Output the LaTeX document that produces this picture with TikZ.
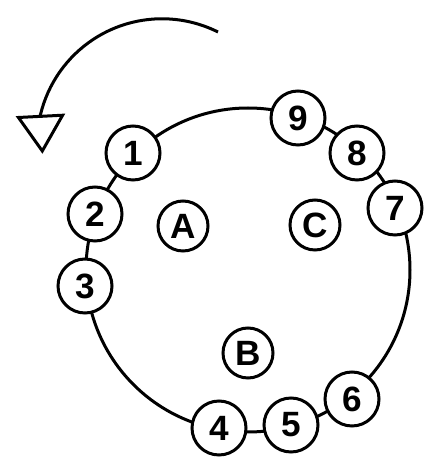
\documentclass[tikz,border=0pt]{standalone}
\usepackage{fontspec}
\setmainfont{Liberation Sans}
\usetikzlibrary{arrows.meta}

\begin{document}
\begin{tikzpicture}[x=0.02cm,y=0.02cm,line width=0.06cm]
  \useasboundingbox (0,0) rectangle (437,464);
  \tikzstyle{spot}=[circle, draw, fill=white, minimum size=1.08cm, inner sep=0pt,
font=\fontsize{20}{20}\selectfont\bfseries]
  \tikzstyle{site}=[spot, minimum size=1cm]
  \coordinate (O) at (248,194);
  \coordinate (S) at (218,432);
  \draw (O) circle (162);
  \draw [-{Triangle[open,length=0.78cm,width=0.98cm]}] (S) arc (63.4:166.6:125) -- ++(2,-39);

  \node[spot] (N_1) at (133,311) {1};
  \node[spot] (N_2) at (95,250)  {2};
  \node[spot] (N_3) at (85,178)  {3};
  \node[spot] (N_4) at (219,36)  {4};
  \node[spot] (N_5) at (291,39)  {5};
  \node[spot] (N_6) at (352,65)  {6};
  \node[spot] (N_7) at (395,256) {7};
  \node[spot] (N_8) at (357,311) {8};
  \node[spot] (N_9) at (298,346) {9};

  \node[site] (L_A) at (183,238) {A};
  \node[site] (L_B) at (248,111) {B};
  \node[site] (L_C) at (315,239) {C};
\end{tikzpicture}
\end{document}
